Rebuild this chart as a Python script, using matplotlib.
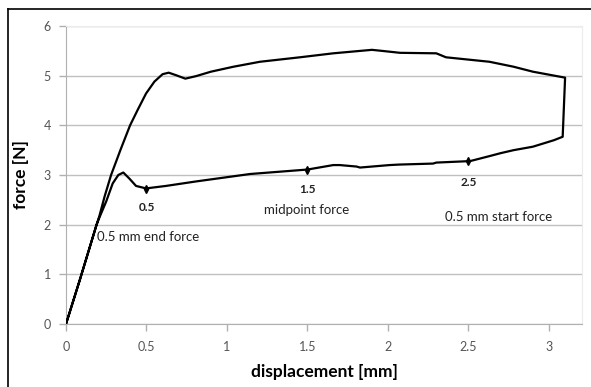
import matplotlib
matplotlib.use("Agg")
import matplotlib.pyplot as plt
from matplotlib.lines import Line2D

plt.rcParams['font.family'] = ['Lato', 'DejaVu Sans']

# upper (loading) curve
upper_x = [0.0, 0.087, 0.19, 0.207, 0.24, 0.28, 0.34, 0.398, 0.445, 0.497, 0.549, 0.60, 0.638, 0.683, 0.741,
           0.807, 0.90, 1.04, 1.205, 1.453, 1.66, 1.90, 1.96, 2.075, 2.30, 2.36, 2.51, 2.63, 2.78, 2.90, 3.10]
upper_y = [0.0, 0.90, 2.0, 2.17, 2.57, 3.0, 3.52, 4.0, 4.31, 4.64, 4.88, 5.03, 5.06, 5.01, 4.94,
           4.99, 5.08, 5.18, 5.28, 5.37, 5.45, 5.52, 5.50, 5.46, 5.45, 5.37, 5.32, 5.28, 5.18, 5.08, 4.96]
# lower (return) curve, from right end back to origin
lower_x = [3.085, 3.03, 2.90, 2.78, 2.70, 2.63, 2.51, 2.30, 2.28, 2.07, 2.01, 1.826, 1.805, 1.70, 1.66,
           1.50, 1.143, 0.807, 0.621, 0.497, 0.435, 0.393, 0.356, 0.325, 0.29, 0.25, 0.207, 0.19, 0.087, 0.0]
lower_y = [3.77, 3.70, 3.57, 3.50, 3.44, 3.38, 3.28, 3.25, 3.23, 3.21, 3.20, 3.15, 3.17, 3.20, 3.20,
           3.11, 3.02, 2.87, 2.78, 2.73, 2.78, 2.93, 3.05, 3.0, 2.83, 2.47, 2.14, 2.0, 0.90, 0.0]

marker_x = [0.5, 1.5, 2.5]
marker_y = [2.72, 3.11, 3.29]
marker_labels = ['0.5', '1.5', '2.5']
marker_label_y = [2.34, 2.71, 2.85]

notes = ['0.5 mm end force', 'midpoint force', '0.5 mm start force']
notes_x = [0.195, 1.495, 2.685]
notes_y = [1.745, 2.30, 2.16]
notes_ha = ['left', 'center', 'center']

xticks = [0, 0.5, 1, 1.5, 2, 2.5, 3]
xtick_labels = ['0', '0.5', '1', '1.5', '2', '2.5', '3']
yticks = [0, 1, 2, 3, 4, 5, 6]

fig = plt.figure(figsize=(5.91, 3.87), dpi=100)
ax = fig.add_axes([66/591, 1-324/387, (582-66)/591, (324-26)/387])

path_x = upper_x + lower_x
path_y = upper_y + lower_y
ax.plot(path_x, path_y, color='black', lw=1.6, solid_joinstyle='round', zorder=3)
ax.plot(marker_x, marker_y, linestyle='none', marker='d', ms=4, color='black', zorder=4)

for lx, ly, lt in zip(marker_x, marker_label_y, marker_labels):
    ax.text(lx, ly, lt, ha='center', va='center', fontsize=8.5, fontweight='bold', color='#222222')
for nx, ny, nt, ha in zip(notes_x, notes_y, notes, notes_ha):
    ax.text(nx, ny, nt, ha=ha, va='center', fontsize=9.5, color='#222222')

ax.set_xlim(0, 3.205)
ax.set_ylim(0, 6)
ax.set_xticks(xticks)
ax.set_xticklabels(xtick_labels)
ax.set_yticks(yticks)
ax.grid(axis='y', color='#c0c0c0', lw=1)
ax.set_axisbelow(True)
ax.tick_params(axis='both', colors='#b0b0b0', labelcolor='#555555', labelsize=9, length=5, width=1)
ax.tick_params(axis='x', pad=7)
ax.tick_params(axis='y', pad=6)
for s in ['left', 'bottom']:
    ax.spines[s].set_color('#b0b0b0')
for s in ['top', 'right']:
    ax.spines[s].set_color('#ececec')

ax.set_xlabel('displacement [mm]', fontsize=12.5, fontweight='bold', labelpad=8)
ax.set_ylabel('force [N]', fontsize=12.5, fontweight='bold', labelpad=10)

# outer frame
fig.add_artist(Line2D([8/591, 8/591], [0, 1-9/387], transform=fig.transFigure, color='black', lw=1.2))
fig.add_artist(Line2D([8/591, 1], [1-9/387, 1-9/387], transform=fig.transFigure, color='black', lw=1.2))

fig.savefig('out.png', dpi=100)
